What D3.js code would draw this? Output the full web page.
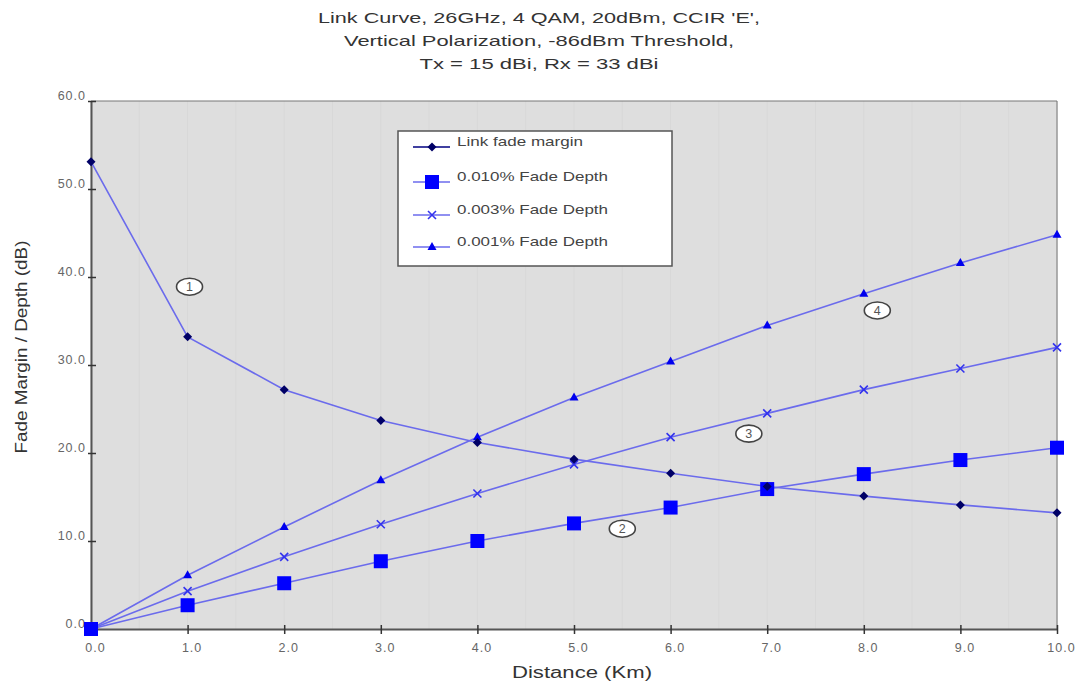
<!DOCTYPE html>
<html><head><meta charset="utf-8">
<script src="https://cdn.jsdelivr.net/npm/d3@7"></script>
<style>body{margin:0;background:#fff;} text{font-family:"Liberation Sans",Arial,sans-serif;}</style>
</head><body><svg id="c" width="1089" height="684"></svg>
<script>
const distances = [0,1,2,3,4,5,6,7,8,9,10];
const linkFadeMargin = [53.1,33.2,27.2,23.7,21.2,19.3,17.7,16.2,15.1,14.1,13.2];
const fade010 = [0,2.7,5.2,7.7,10.0,12.0,13.8,15.9,17.6,19.2,20.6];
const fade003 = [0,4.3,8.2,11.9,15.4,18.7,21.8,24.5,27.2,29.6,32.0];
const fade001 = [0,6.1,11.6,16.9,21.8,26.3,30.4,34.5,38.1,41.6,44.8];
const xTicks = [0,1,2,3,4,5,6,7,8,9,10];
const yTicks = [0,10,20,30,40,50,60];
const seriesNames = ["Link fade margin","0.010% Fade Depth","0.003% Fade Depth","0.001% Fade Depth"];
const titleLines = ["Link Curve, 26GHz, 4 QAM, 20dBm, CCIR 'E',","Vertical Polarization, -86dBm Threshold,","Tx = 15 dBi, Rx = 33 dBi"];
const annotations = [{label:"1",x:1.02,y:38.9},{label:"2",x:5.5,y:11.4},{label:"3",x:6.81,y:22.2},{label:"4",x:8.14,y:36.2}];

const svg = d3.select("#c");
const L=91,R=1057,T=101,B=629;
const x = d3.scaleLinear().domain([0,10]).range([L,R]);
const y = d3.scaleLinear().domain([0,60]).range([B,T]);

svg.append("rect").attr("x",L).attr("y",T).attr("width",R-L).attr("height",B-T).attr("fill","#dedede");
d3.range(0,10.01,0.5).forEach(v=>{
  svg.append("line").attr("x1",x(v)).attr("x2",x(v)).attr("y1",T).attr("y2",B).attr("stroke","#d8d8d8").attr("stroke-width",1);
});
svg.append("line").attr("x1",L).attr("x2",R).attr("y1",T).attr("y2",T).attr("stroke","#777");
svg.append("line").attr("x1",R).attr("x2",R).attr("y1",T).attr("y2",B).attr("stroke","#777");

const xAxis = d3.axisBottom(x).tickValues(xTicks).tickFormat(d3.format(".1f")).tickSize(0);
const gx = svg.append("g").attr("transform",`translate(0,${B})`).call(xAxis);
gx.select(".domain").attr("stroke","#555").attr("stroke-width",2);
gx.selectAll("text").attr("fill","#666").attr("font-size",12.5).attr("y",23).attr("dy",0).attr("dx",4).attr("letter-spacing",1);
gx.selectAll(".tick").append("line").attr("y1",-4).attr("y2",5).attr("stroke","#333").attr("stroke-width",1.5);
const yAxis = d3.axisLeft(y).tickValues(yTicks).tickFormat(d3.format(".1f")).tickSize(0);
const gy = svg.append("g").attr("transform",`translate(${L},0)`).call(yAxis);
gy.select(".domain").attr("stroke","#555").attr("stroke-width",2);
gy.selectAll("text").attr("fill","#666").attr("font-size",12.5).attr("x",-5).attr("dy",-2).attr("letter-spacing",1);
gy.selectAll(".tick").append("line").attr("x1",-3).attr("x2",5).attr("stroke","#333").attr("stroke-width",1.5);

const titleLen=[442,390,239];
svg.append("g").selectAll("text").data(titleLines).join("text")
  .attr("x",539).attr("y",(d,i)=>23+i*23).attr("text-anchor","middle")
  .attr("font-size",15).attr("fill","#333").attr("textLength",(d,i)=>titleLen[i]).attr("lengthAdjust","spacingAndGlyphs").text(d=>d);
svg.append("text").attr("x",582).attr("y",678).attr("text-anchor","middle").attr("font-size",16).attr("fill","#333")
  .attr("textLength",140).attr("lengthAdjust","spacingAndGlyphs").text("Distance (Km)");
svg.append("text").attr("transform","translate(27,347) rotate(-90)").attr("text-anchor","middle").attr("font-size",16).attr("fill","#333")
  .attr("textLength",213).attr("lengthAdjust","spacingAndGlyphs").text("Fade Margin / Depth (dB)");

const lineCol = "#6b6bec";
const line = d3.line().x((d,i)=>x(distances[i])).y(d=>y(d));
const all = [linkFadeMargin,fade010,fade003,fade001];
all.forEach(s=>svg.append("path").attr("d",line(s)).attr("fill","none").attr("stroke",lineCol).attr("stroke-width",1.6));

function marker(g,type,cx,cy){
  if(type===0) g.append("path").attr("d",`M${cx},${cy-4.5}L${cx+4.5},${cy}L${cx},${cy+4.5}L${cx-4.5},${cy}Z`).attr("fill","#000066");
  else if(type===1) g.append("rect").attr("x",cx-7).attr("y",cy-7).attr("width",14).attr("height",14).attr("fill","#0000ff");
  else if(type===2) g.append("path").attr("d",`M${cx-4},${cy-4}L${cx+4},${cy+4}M${cx-4},${cy+4}L${cx+4},${cy-4}`).attr("stroke","#3333ee").attr("stroke-width",1.6);
  else g.append("path").attr("d",`M${cx},${cy-5}L${cx+4.5},${cy+3}L${cx-4.5},${cy+3}Z`).attr("fill","#0000ee");
}
const mg = svg.append("g");
[fade003,fade001,fade010,linkFadeMargin].forEach(s=>{
  const t = all.indexOf(s);
  s.forEach((v,i)=>marker(mg,t,x(distances[i]),y(v)));
});

const ag = svg.append("g");
annotations.forEach(a=>{
  ag.append("ellipse").attr("cx",x(a.x)).attr("cy",y(a.y)).attr("rx",13).attr("ry",8.5).attr("fill","#fff").attr("stroke","#444").attr("stroke-width",1.6);
  ag.append("text").attr("x",x(a.x)).attr("y",y(a.y)+4.5).attr("text-anchor","middle").attr("font-size",12.5).attr("fill","#555").text(a.label);
});

const lg = svg.append("g");
lg.append("rect").attr("x",398).attr("y",131).attr("width",274).attr("height",135).attr("fill","#fff").attr("stroke","#555").attr("stroke-width",1.5);
const legY=[147,182,215,247];
const legLen=[126,151,151,151];
seriesNames.forEach((n,i)=>{
  lg.append("line").attr("x1",413).attr("x2",450).attr("y1",legY[i]).attr("y2",legY[i]).attr("stroke",i===0?"#000080":lineCol).attr("stroke-width",1.6);
  marker(lg,i,432,legY[i]);
  lg.append("text").attr("x",457).attr("y",legY[i]-1).attr("font-size",13).attr("fill","#444")
    .attr("textLength",legLen[i]).attr("lengthAdjust","spacingAndGlyphs").text(n);
});
</script></body></html>
